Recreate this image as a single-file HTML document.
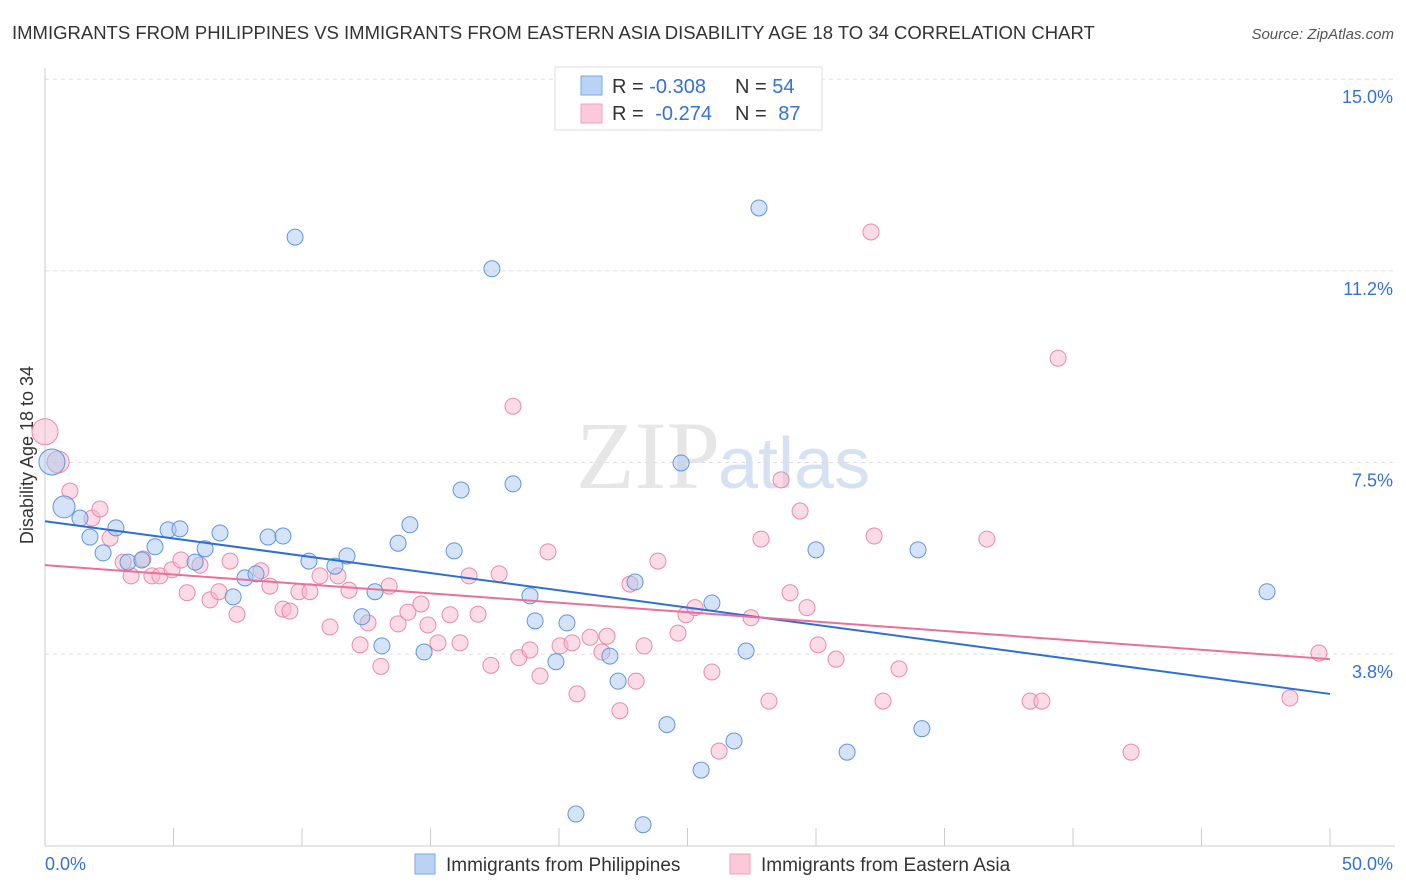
<!DOCTYPE html>
<html><head><meta charset="utf-8"><style>
body{margin:0;background:#fff;font-family:"Liberation Sans",sans-serif;}
svg{display:block}
</style></head><body>
<svg id="chart" width="1406" height="892">
<text x="12" y="39" font-size="18.5" fill="#333">IMMIGRANTS FROM PHILIPPINES VS IMMIGRANTS FROM EASTERN ASIA DISABILITY AGE 18 TO 34 CORRELATION CHART</text>
<text x="1394" y="39" font-size="15" fill="#555" font-style="italic" text-anchor="end">Source: ZipAtlas.com</text>
<text x="720" y="488" font-size="96" fill="#e6e6e6" text-anchor="end" font-family="Liberation Serif,serif">ZIP</text>
<text x="718" y="488" font-size="72" fill="#d6e2f4">atlas</text>
<text transform="translate(33,455) rotate(-90)" font-size="18" fill="#333" text-anchor="middle">Disability Age 18 to 34</text>
<g id="grid"></g><g id="marks"></g>
<g>
<rect x="555" y="67" width="267" height="63" fill="#fff" stroke="#ddd"/>
<rect x="581" y="76" width="21" height="19" fill="#b9d3f5" stroke="#7aa8e6"/>
<rect x="581" y="104" width="21" height="19" fill="#fcc9d8" stroke="#f0a0bb"/>
<text x="612" y="93" font-size="20" fill="#333">R = <tspan fill="#3472d4">-0.308</tspan><tspan x="735">N = </tspan><tspan fill="#3472d4">54</tspan></text>
<text x="612" y="120" font-size="20" fill="#333">R = <tspan fill="#3472d4" dx="6">-0.274</tspan><tspan x="735">N = </tspan><tspan fill="#3472d4" dx="6">87</tspan></text>
</g>
<g>
<rect x="415" y="854" width="20" height="20" fill="#b9d3f5" stroke="#7aa8e6"/>
<text x="446" y="871" font-size="19" fill="#333">Immigrants from Philippines</text>
<rect x="730" y="854" width="20" height="20" fill="#fcc9d8" stroke="#f0a0bb"/>
<text x="761" y="871" font-size="19" fill="#333">Immigrants from Eastern Asia</text>
</g>
<text x="45" y="870" font-size="18" fill="#3472d4">0.0%</text>
<text x="1393" y="870" font-size="18" fill="#3472d4" text-anchor="end">50.0%</text>
</svg>
<script>
const yTicks=[15.0,11.25,7.5,3.75];
const yTickLabels=["15.0%","11.2%","7.5%","3.8%"];
const blueX=[0.27,0.74,1.36,1.75,2.26,2.76,3.23,3.77,4.28,4.79,5.25,6.23,5.84,6.81,7.32,7.78,8.21,8.68,9.26,9.73,10.27,11.28,11.75,12.33,12.84,13.11,13.74,14.2,14.75,15.92,16.19,17.39,18.21,18.87,19.07,19.88,20.31,20.66,21.98,22.3,22.96,23.27,24.2,24.75,25.53,25.95,26.81,27.28,27.78,30.0,31.21,33.97,34.12,47.55];
const blueY=[7.51,6.63,6.41,6.04,5.73,6.22,5.55,5.59,5.85,6.18,6.2,5.81,5.55,6.12,4.87,5.24,5.32,6.04,6.06,11.91,5.57,5.47,5.67,4.48,4.97,3.91,5.92,6.28,3.79,5.77,6.96,11.29,7.08,4.89,4.40,3.60,4.36,0.62,3.71,3.22,5.16,0.41,2.37,7.49,1.48,4.75,2.05,3.81,12.48,5.79,1.83,5.79,2.29,4.97];
const pinkX=[0,0.51,0.97,1.83,2.14,2.53,3.04,3.35,3.81,4.16,4.47,4.94,5.29,5.53,6.03,6.42,6.77,7.2,7.47,8.4,8.75,9.26,9.53,9.88,10.31,10.7,11.09,11.4,11.83,12.26,12.57,13.07,13.39,13.74,14.12,14.63,14.9,15.29,15.76,16.15,16.5,16.85,17.35,17.67,18.21,18.44,18.87,19.26,19.57,20.04,20.51,20.7,21.21,21.67,21.87,22.37,22.76,23.0,23.31,23.85,24.63,24.94,25.29,25.95,26.23,27.47,27.86,28.17,28.64,28.99,29.38,29.65,30.08,30.78,32.14,32.26,32.61,33.23,36.65,38.33,38.79,39.42,42.26,48.44,49.57];
const pinkY=[8.1,7.51,6.94,6.41,6.59,6.02,5.55,5.28,5.61,5.28,5.28,5.4,5.59,4.95,5.49,4.81,4.97,5.57,4.53,5.38,5.08,4.63,4.59,4.97,4.97,5.28,4.28,5.28,5.0,3.93,4.36,3.51,5.08,4.34,4.57,4.73,4.32,3.97,4.52,3.97,5.28,4.53,3.53,5.32,8.6,3.68,3.83,3.32,5.75,3.91,3.97,2.97,4.08,3.79,4.1,2.64,5.12,3.22,3.91,5.57,4.16,4.52,4.66,3.4,1.85,4.46,6.0,2.83,7.16,4.95,6.55,4.66,3.93,3.65,12.01,6.06,2.83,3.46,6.0,2.83,2.83,9.54,1.83,2.89,3.77];
const blueTrend=[6.35,2.97];
const pinkTrend=[5.49,3.65];
const NS="http://www.w3.org/2000/svg";
const X=v=>45+v*25.7, Y=v=>845.7-v*51.1;
const grid=document.getElementById('grid'), marks=document.getElementById('marks');
function mk(tag,attrs,parent){const e=document.createElementNS(NS,tag);for(const k in attrs)e.setAttribute(k,attrs[k]);parent.appendChild(e);return e;}
yTicks.forEach((t,i)=>{
 const l=mk('line',{x1:45,x2:1395,y1:Y(t),y2:Y(t),stroke:'#ddd','stroke-dasharray':'4,4'},grid);
 
 
 const tx=mk('text',{x:1393,y:Y(t)+24,'font-size':18,fill:'#3472d4','text-anchor':'end'},grid);
 tx.textContent=yTickLabels[i];
 
 
});
const ax=mk('line',{x1:45,x2:45,y1:68,y2:846,stroke:'#ccc'},grid);


const bx=mk('line',{x1:45,x2:1395,y1:846,y2:846,stroke:'#ccc'},grid);


for(let i=0;i<=10;i++){const t=mk('line',{x1:X(i*5),x2:X(i*5),y1:828,y2:846,stroke:'#ccc'},grid);
 
 }
function dots(xs,ys,fill,stroke,name){xs.forEach((x,i)=>{
 const c=mk('circle',{cx:X(x),cy:Y(ys[i]),r:(x<1&&i<2)?(i===0?13:11):8,fill:fill,'fill-opacity':0.5,stroke:stroke,'stroke-width':1},marks);
 
 });}
dots(pinkX,pinkY,'#f7b8cc','#e98aa9','pink-point');
dots(blueX,blueY,'#a9c8f0','#5f95dd','blue-point');
const bl=mk('line',{x1:X(0),x2:X(50),y1:Y(blueTrend[0]),y2:Y(blueTrend[1]),stroke:'#2d6fd6','stroke-width':2},marks);


const pl=mk('line',{x1:X(0),x2:X(50),y1:Y(pinkTrend[0]),y2:Y(pinkTrend[1]),stroke:'#e8709a','stroke-width':2},marks);


</script>
</body></html>
